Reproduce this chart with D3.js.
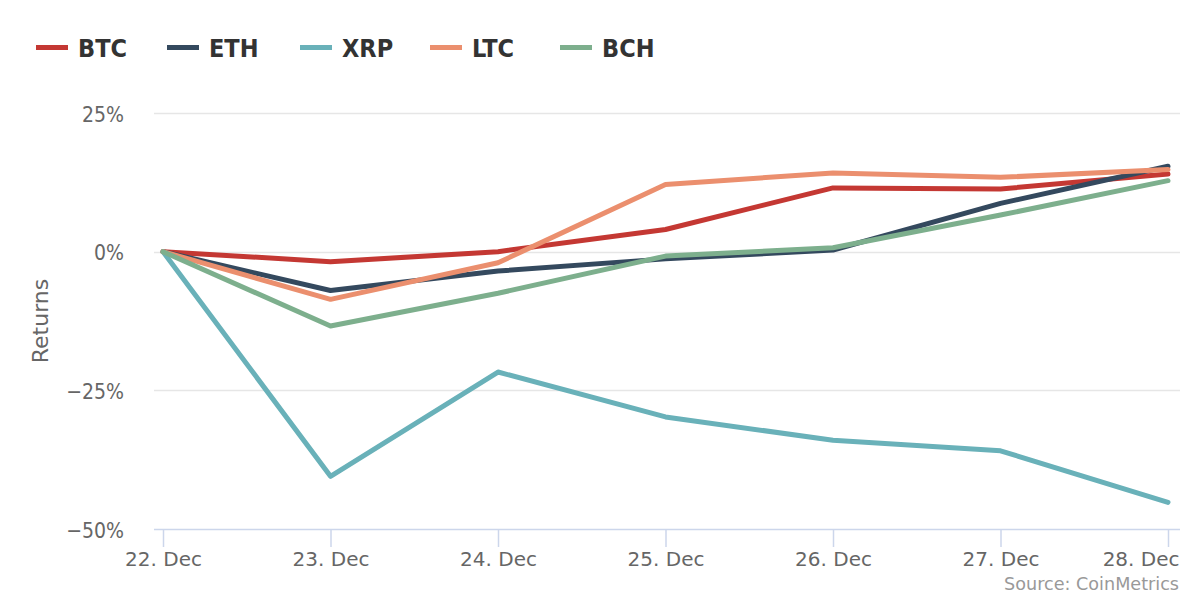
<!DOCTYPE html>
<html><head><meta charset="utf-8">
<script src="https://d3js.org/d3.v7.min.js"></script>
<style>body{margin:0;background:#fff;}svg{display:block;}</style>
</head><body><svg id="c" width="1200" height="600"></svg>
<script>
const dates = ["22. Dec","23. Dec","24. Dec","25. Dec","26. Dec","27. Dec","28. Dec"];
const btc = [0, -1.8, 0.0, 4.0, 11.5, 11.3, 14.0];
const eth = [0, -7.0, -3.5, -1.3, 0.3, 8.7, 15.4];
const xrp = [0, -40.5, -21.7, -29.8, -34.0, -35.9, -45.2];
const ltc = [0, -8.6, -2.0, 12.1, 14.2, 13.4, 14.8];
const bch = [0, -13.4, -7.5, -0.8, 0.7, 6.6, 12.8];
const yTicks = [25, 0, -25, -50];
const seriesNames = ["BTC","ETH","XRP","LTC","BCH"];
const seriesColors = ["#c43833","#34495e","#69b1b9","#eb8f6e","#7daf8d"];
const seriesData = [btc, eth, xrp, ltc, bch];
const sourceText = "Source: CoinMetrics";

(function(){
const fontC = "'DejaVu Sans Condensed','DejaVu Sans',sans-serif";
const fontR = "'DejaVu Sans',sans-serif";
const svg = d3.select("#c");
const pL = 154, pR = 1180, pT = 113, pB = 529;
const x = d3.scalePoint().domain(dates).range([163, 1168]);
const y = d3.scaleLinear().domain([-50, 25]).range([pB, pT]);

svg.append("g").selectAll("line").data(yTicks.filter(d => d !== -50)).join("line")
  .attr("x1", pL).attr("x2", pR)
  .attr("y1", d => Math.round(y(d)) + 0.5).attr("y2", d => Math.round(y(d)) + 0.5)
  .attr("stroke", "#e6e6e6").attr("stroke-width", 1.5);

svg.append("g").selectAll("text").data(yTicks).join("text")
  .attr("x", 124).attr("y", d => y(d) + 8.5)
  .attr("text-anchor", "end").attr("fill", "#666")
  .style("font-family", fontC).style("font-size", "21px")
  .text(d => (d < 0 ? "\u2212" + Math.abs(d) : d) + "%");

svg.append("text").attr("transform", `translate(48,${(pT + pB) / 2}) rotate(-90)`)
  .attr("text-anchor", "middle").attr("fill", "#666")
  .style("font-family", fontR).style("font-size", "22px").text("Returns");

const xa = svg.append("g").attr("transform", `translate(0,${pB})`)
  .call(d3.axisBottom(x).tickSize(18).tickPadding(0));
xa.select(".domain").remove();
xa.selectAll(".tick line").attr("stroke", "#ccd6eb").attr("stroke-width", 1.5);
xa.selectAll(".tick text").attr("fill", "#666").style("font-family", fontR).style("font-size", "20px")
  .attr("y", 37).attr("dy", 0);
xa.selectAll(".tick").filter(d => d === dates[dates.length - 1]).select("text")
  .attr("text-anchor", "end").attr("x", 1179 - x(dates[dates.length - 1]));
svg.append("line").attr("x1", pL).attr("x2", pR).attr("y1", pB + 0.5).attr("y2", pB + 0.5)
  .attr("stroke", "#ccd6eb").attr("stroke-width", 1.5);

const line = d3.line().x((d, i) => x(dates[i])).y(d => y(d));
svg.append("g").selectAll("path").data(seriesData).join("path")
  .attr("d", d => line(d)).attr("fill", "none")
  .attr("stroke", (d, i) => seriesColors[i]).attr("stroke-width", 5)
  .attr("stroke-linejoin", "round").attr("stroke-linecap", "round");

const legX = [36, 167, 300, 430, 560];
const leg = svg.append("g").selectAll("g").data(seriesNames).join("g")
  .attr("transform", (d, i) => `translate(${legX[i]},47.5)`);
leg.append("line").attr("x1", 0).attr("x2", 32).attr("stroke", (d, i) => seriesColors[i]).attr("stroke-width", 5);
leg.append("text").attr("x", 42).attr("y", 9.5).attr("fill", "#333")
  .style("font-family", fontC).style("font-size", "25px").style("font-weight", "bold").text(d => d);

svg.append("text").attr("x", 1179).attr("y", 590).attr("text-anchor", "end").attr("fill", "#999")
  .style("font-family", fontR).style("font-size", "17.6px").text(sourceText);
})();
</script></body></html>
